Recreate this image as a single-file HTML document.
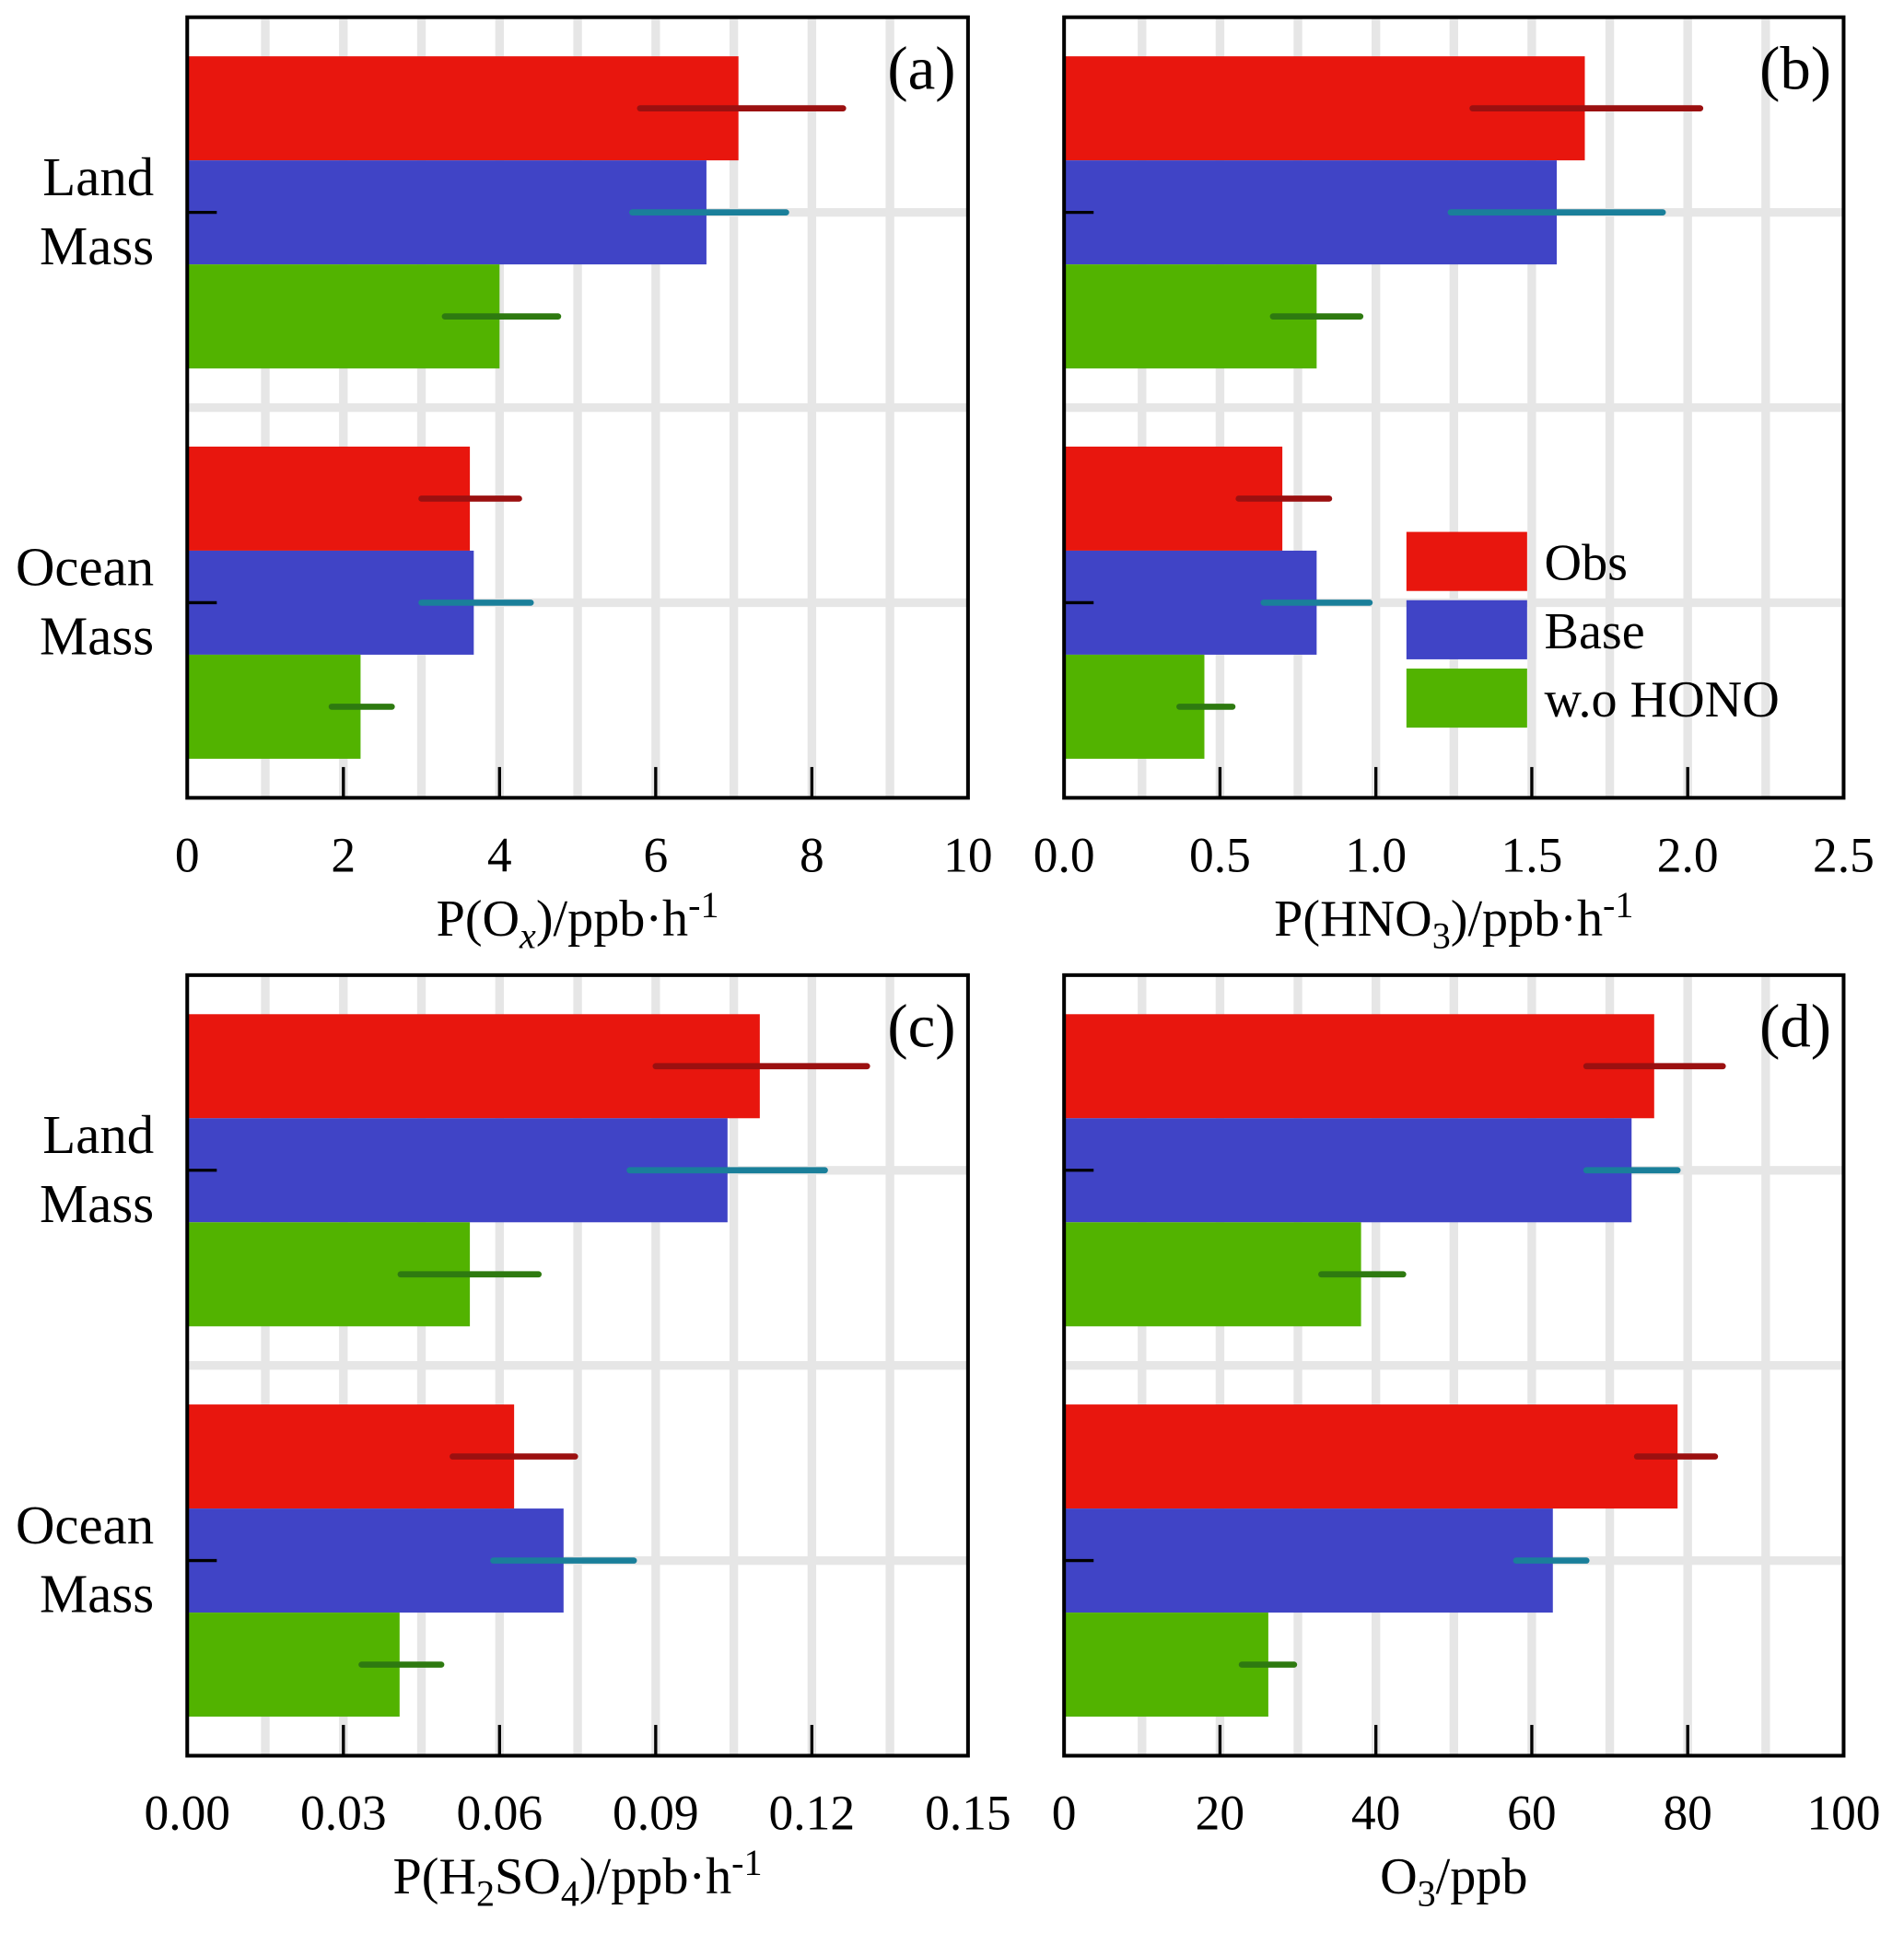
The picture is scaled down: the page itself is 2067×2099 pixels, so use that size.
<!DOCTYPE html>
<html><head><meta charset="utf-8"><style>html,body{margin:0;padding:0;background:#fff}svg{display:block}text{font-family:"Liberation Serif",serif;fill:#000}</style></head>
<body>
<svg id="fig" width="2067" height="2099" viewBox="0 0 1546 1570" xmlns="http://www.w3.org/2000/svg"></svg>
<script>
const categories = ["Land Mass","Ocean Mass"];
const seriesNames = ["Obs","Base","w.o HONO"];
const aVals = [[7.06,6.65,4.0],[3.62,3.67,2.22]];
const aErr = [[[5.8,8.4],[5.7,7.67],[3.3,4.75]],[[3.0,4.25],[3.0,4.4],[1.85,2.62]]];
const bVals = [[1.67,1.58,0.81],[0.70,0.81,0.45]];
const bErr = [[[1.31,2.04],[1.24,1.92],[0.67,0.95]],[[0.56,0.85],[0.64,0.98],[0.37,0.54]]];
const cVals = [[0.110,0.1038,0.0543],[0.0628,0.0723,0.0408]];
const cErr = [[[0.090,0.1306],[0.085,0.1225],[0.041,0.0675]],[[0.051,0.0745],[0.0588,0.0858],[0.0335,0.0488]]];
const dVals = [[75.7,72.8,38.1],[78.7,62.7,26.2]];
const dErr = [[[67,84.5],[67,78.7],[33,43.5]],[[73.5,83.5],[58,67],[22.8,29.5]]];
const aTicks = ["0","2","4","6","8","10"];
const bTicks = ["0.0","0.5","1.0","1.5","2.0","2.5"];
const cTicks = ["0.00","0.03","0.06","0.09","0.12","0.15"];
const dTicks = ["0","20","40","60","80","100"];

const NS="http://www.w3.org/2000/svg";
const svg=document.getElementById('fig');
const barCol=["#e8160e","#4044c6","#52b300"];
const errCol=["#9b1010","#1a7f9a","#2e7a10"];
function mk(tag,attrs,parent){const e=document.createElementNS(NS,tag);for(const k in attrs)e.setAttribute(k,attrs[k]);(parent||svg).appendChild(e);return e;}

function panel(id,L,T,W,H,vals,errs,ticks,xmax,letter,titleParts,showCats){
  const g=mk('g',{});
  
  
  const x=v=>L+v/xmax*W;
  const y=f=>T+f*H;
  for(let i=1;i<10;i++){const gx=L+W*i/10;const l=mk('line',{x1:gx,x2:gx,y1:T,y2:T+H,stroke:"#e6e6e6","stroke-width":7},g);
    }
  [0.25,0.5,0.75].forEach(f=>{const l=mk('line',{x1:L,x2:L+W,y1:y(f),y2:y(f),stroke:"#e6e6e6","stroke-width":7},g);
    });
  const bh=H*0.1333;
  categories.forEach((c,ci)=>{
    const center=0.25+ci*0.5;
    vals[ci].forEach((v,si)=>{
      const top=y(center)-1.5*bh+si*bh;
      const r=mk('rect',{x:L,y:top,width:x(v)-L,height:bh,fill:barCol[si]},g);
      
      
    });
    errs[ci].forEach((e,si)=>{
      const cy=y(center)-bh+si*bh;
      const l=mk('line',{x1:x(e[0]),x2:x(e[1]),y1:cy,y2:cy,stroke:errCol[si],"stroke-width":5,"stroke-linecap":"round"},g);
      
    });
    const t=mk('line',{x1:L,x2:L+24,y1:y(center),y2:y(center),stroke:"#000","stroke-width":2.5},g);
    
    if(showCats){
      const words=c.split(' ');
      words.forEach((w,wi)=>{const tx=mk('text',{x:125,y:y(center)-14+wi*56,"text-anchor":"end","font-size":44},g);tx.textContent=w;
        });
    }
  });
  ticks.forEach((tk,i)=>{
    const tx=L+W*i/(ticks.length-1);
    if(i>0&&i<ticks.length-1){const l=mk('line',{x1:tx,x2:tx,y1:T+H,y2:T+H-25,stroke:"#000","stroke-width":2.5},g);
      }
    const t=mk('text',{x:tx,y:T+H+60,"text-anchor":"middle","font-size":40},g);t.textContent=tk;
    
  });
  const fr=mk('rect',{x:L,y:T,width:W,height:H,fill:"none",stroke:"#000","stroke-width":3},g);
  
  const pl=mk('text',{x:L+W-10,y:T+58,"text-anchor":"end","font-size":50},g);pl.textContent=letter;
  
  const at=mk('text',{x:L+W/2,y:T+H+112,"text-anchor":"middle","font-size":42},g);
  
  titleParts.forEach(p=>{const s=mk('tspan',{},at);s.textContent=p[0];
    if(p[1]==='sub'){s.setAttribute('dy','10');s.setAttribute('font-size','30');}
    if(p[1]==='subi'){s.setAttribute('dy','10');s.setAttribute('font-size','30');s.setAttribute('font-style','italic');}
    if(p[1]==='sup'){s.setAttribute('dy','-15');s.setAttribute('font-size','30');}
    if(p[1]==='back'){s.setAttribute('dy','-10');}
  });
}
panel('a',152,14,634,634,aVals,aErr,aTicks,10,"(a)",[["P(O"],["x","subi"],[")/ppb·h","back"],["-1","sup"]],true);
panel('b',864,14,633,634,bVals,bErr,bTicks,2.5,"(b)",[["P(HNO"],["3","sub"],[")/ppb·h","back"],["-1","sup"]],false);
panel('c',152,792,634,634,cVals,cErr,cTicks,0.15,"(c)",[["P(H"],["2","sub"],["SO","back"],["4","sub"],[")/ppb·h","back"],["-1","sup"]],true);
panel('d',864,792,633,634,dVals,dErr,dTicks,100,"(d)",[["O"],["3","sub"],["/ppb","back"]],false);
const lg=mk('g',{});


seriesNames.forEach((n,i)=>{
  const r=mk('rect',{x:1142,y:432+i*55.5,width:98,height:48,fill:barCol[i]},lg);
  
  const t=mk('text',{x:1254,y:471+i*55.5,"font-size":42},lg);t.textContent=n;
  
});
</script>
</body></html>
